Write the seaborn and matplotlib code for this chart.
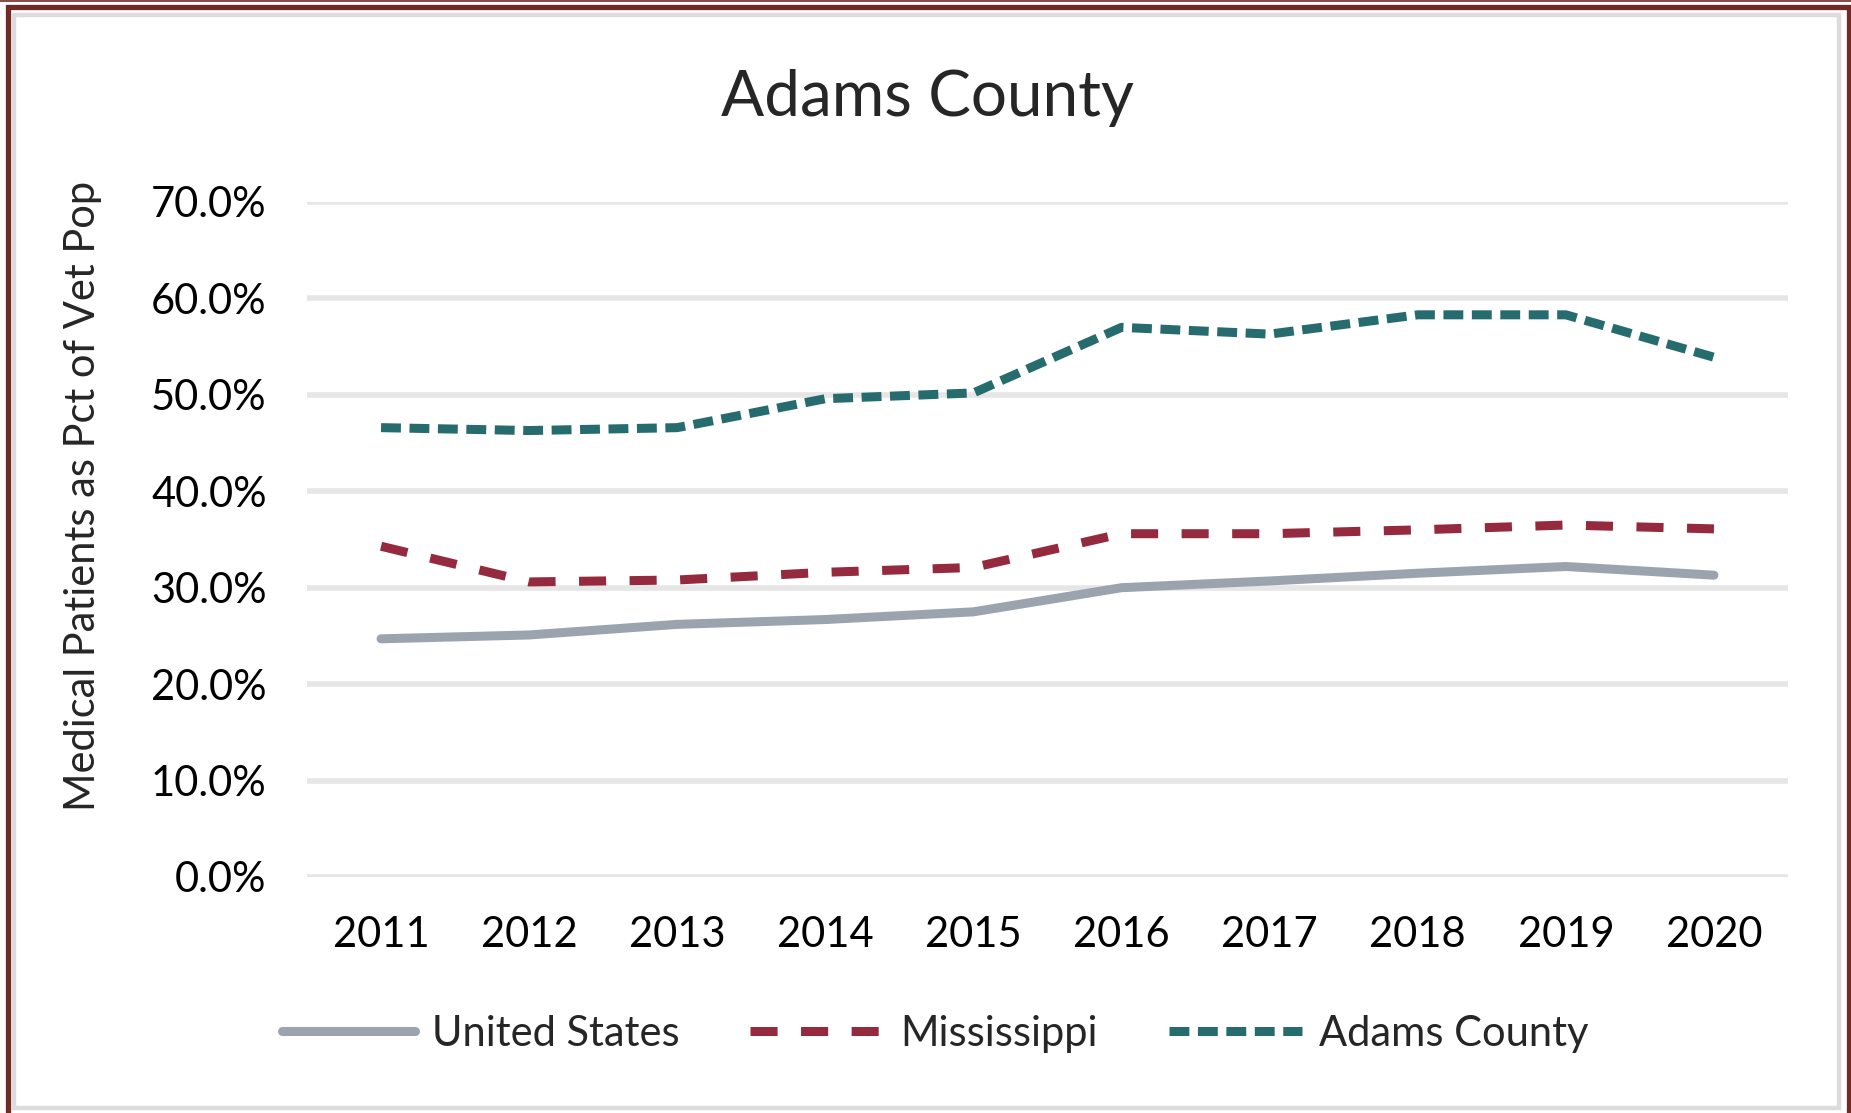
import pandas
import numpy
import matplotlib.pyplot as plt
from matplotlib.patches import Rectangle
from matplotlib.ticker import PercentFormatter
import seaborn

# values (share of vet population)
years = ['2011', '2012', '2013', '2014', '2015', '2016', '2017', '2018', '2019', '2020']
united_states = [24.7, 25.1, 26.2, 26.7, 27.5, 30.0, 30.7, 31.5, 32.2, 31.3]
mississippi = [34.3, 30.6, 30.8, 31.6, 32.1, 35.6, 35.6, 36.0, 36.5, 36.1]
adams_county = [46.6, 46.3, 46.6, 49.6, 50.2, 57.0, 56.3, 58.3, 58.3, 53.9]
series_names = ['United States', 'Mississippi', 'Adams County']

df = pandas.DataFrame({
    'year': years * 3,
    'pos': list(range(len(years))) * 3,
    'pct': numpy.array(united_states + mississippi + adams_county) / 100,
    'series': numpy.repeat(series_names, len(years)),
})

colors = {'United States': '#9BA4AE', 'Mississippi': '#952A3E', 'Adams County': '#266B6E'}
dashes = {'United States': '', 'Mississippi': (3.0, 2.6), 'Adams County': (2.2, 0.95)}

seaborn.set_style('white')
plt.rcParams['font.family'] = ['Lato', 'DejaVu Sans']

W, H = 1851, 1113
fig = plt.figure(figsize=(W / 100, H / 100), dpi=100)
ax = fig.add_axes([307 / W, 1 - 877 / H, (1788 - 307) / W, (877 - 202) / H])

seaborn.lineplot(data=df, x='pos', y='pct', hue='series', style='series',
                 palette=colors, dashes=dashes, linewidth=6.5, ax=ax, legend=False)

ax.set_xlim(-0.5, len(years) - 0.5)
ax.set_ylim(0, 0.7)
ax.set_yticks(numpy.arange(0, 0.71, 0.1))
ax.yaxis.set_major_formatter(PercentFormatter(1.0, decimals=1))
ax.set_xticks(range(len(years)))
ax.set_xticklabels(years)
ax.tick_params(axis='both', length=0, labelsize=30, colors='black')
ax.tick_params(axis='y', pad=29)
ax.tick_params(axis='x', pad=28)
ax.grid(axis='y', color='#E6E6E6', linewidth=4)
ax.set_axisbelow(True)
for s in ax.spines.values():
    s.set_visible(False)
ax.set_xlabel('')
ax.set_ylabel('')

fig.text(927 / W, 1 - 98 / H, 'Adams County', fontsize=46, ha='center', va='center')
fig.text(83 / W, 1 - 496 / H, 'Medical Patients as Pct of Vet Pop', fontsize=30,
         rotation=90, ha='center', va='center')

# legend
handles = [plt.Line2D([], [], color=colors[n], linewidth=6.5,
                      dashes=dashes[n] if dashes[n] else (None, None)) for n in series_names]
fig.legend(handles, series_names, loc='center', ncol=3, frameon=False, fontsize=30,
           bbox_to_anchor=(935 / W, 1 - 1034 / H), handlelength=3.2,
           handletextpad=0.4, columnspacing=1.7)

# frame around the chart (pixel values measured from the top-left)
fig.patches.append(Rectangle((14 / W, 1 - 1108 / H), (1839 - 14) / W, (1108 - 15) / H,
                             transform=fig.transFigure, fill=False,
                             edgecolor='#DCDCDC', linewidth=3.2))
fig.patches.append(Rectangle((7.5 / W, -0.02), (1849 - 7.5) / W, 1.02 - 6.5 / H,
                             transform=fig.transFigure, fill=False,
                             edgecolor='#722A27', linewidth=3.8))
fig.add_artist(plt.Line2D([0, 1], [1 - 0.8 / H, 1 - 0.8 / H], transform=fig.transFigure,
                          color='#722A27', linewidth=1.2))

fig.savefig('out.png', dpi=100)
